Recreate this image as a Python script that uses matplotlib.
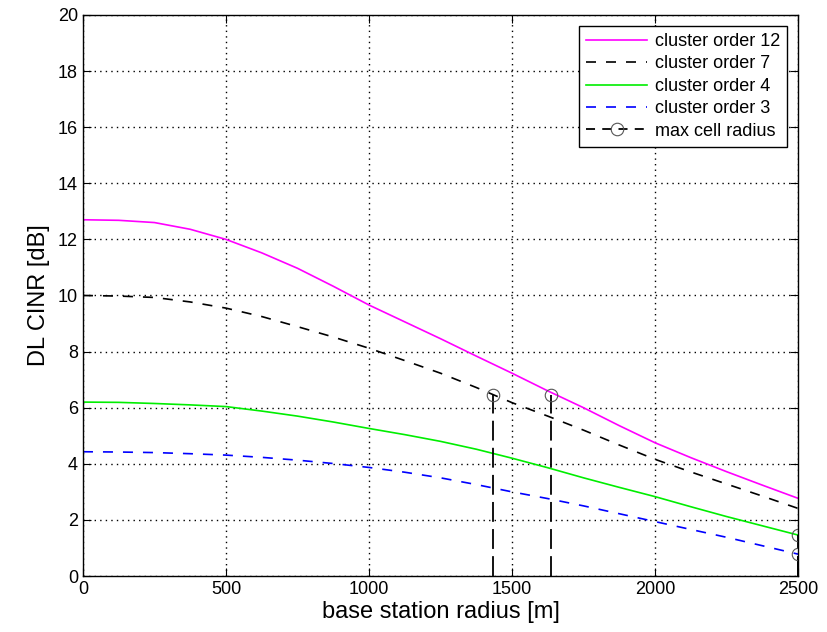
import matplotlib.pyplot as plt
import numpy as np

plt.rcParams['font.family'] = ['Liberation Sans', 'DejaVu Sans']

# base station radius [m]
radius = [0, 125, 250, 375, 500, 625, 750, 875, 1000, 1125, 1250,
          1375, 1500, 1625, 1750, 1875, 2000, 2125, 2250, 2375, 2500]

# DL CINR [dB] per cluster order
cinr_12 = [12.7, 12.68, 12.6, 12.36, 12.0, 11.52, 10.97, 10.33, 9.66, 9.06, 8.46,
           7.84, 7.23, 6.6, 6.0, 5.36, 4.75, 4.22, 3.72, 3.24, 2.77]
cinr_7 = [10.0, 9.98, 9.93, 9.77, 9.55, 9.25, 8.89, 8.52, 8.12, 7.68, 7.23,
          6.72, 6.18, 5.7, 5.2, 4.67, 4.16, 3.71, 3.28, 2.85, 2.41]
cinr_4 = [6.2, 6.19, 6.15, 6.1, 6.04, 5.88, 5.7, 5.49, 5.26, 5.04, 4.8,
          4.52, 4.2, 3.86, 3.5, 3.16, 2.83, 2.47, 2.12, 1.79, 1.46]
cinr_3 = [4.43, 4.42, 4.4, 4.36, 4.31, 4.23, 4.13, 4.01, 3.87, 3.7, 3.5,
          3.26, 3.0, 2.76, 2.5, 2.22, 1.94, 1.66, 1.38, 1.08, 0.78]

# max cell radius points
max_r = [1435, 1635, 2500, 2500]
max_cinr = [6.45, 6.45, 1.46, 0.78]

fig = plt.figure(figsize=(8.28, 6.32), dpi=100)
ax = fig.add_axes([0.1002, 0.0886, 0.8636, 0.8877])

ax.plot(radius, cinr_12, color='#ff00ff', lw=1.2, label='cluster order 12')
ax.plot(radius, cinr_7, color='black', lw=1.2, ls=(0, (6, 6)), label='cluster order 7')
ax.plot(radius, cinr_4, color='#00ee00', lw=1.2, label='cluster order 4')
ax.plot(radius, cinr_3, color='blue', lw=1.2, ls=(0, (6, 6)), label='cluster order 3')

for i in range(len(max_r)):
    lbl = 'max cell radius' if i == 0 else None
    ax.plot([max_r[i], max_r[i]], [0, max_cinr[i]], color='black', lw=1.3,
            ls=(0, (11, 4)), marker='o', markevery=[1], ms=9, mfc='none',
            mec='#555555', mew=0.8, label=lbl)

ax.set_xlim(0, 2500)
ax.set_ylim(0, 20)
ax.set_xticks(np.arange(0, 2501, 500))
ax.set_yticks(np.arange(0, 21, 2))
ax.grid(True, color='black', ls=(0, (1, 3)), lw=1.0)
ax.tick_params(direction='in', top=True, right=True, length=6, labelsize=13)
for s in ax.spines.values():
    s.set_linewidth(1.0)

ax.set_xlabel('base station radius [m]', fontsize=17, labelpad=2)
ax.set_ylabel('DL CINR [dB]', fontsize=17, labelpad=6)

leg = ax.legend(loc='upper right', fontsize=13, fancybox=False, framealpha=1,
                edgecolor='black', borderaxespad=0.6, handlelength=3.4,
                labelspacing=0.3, handletextpad=0.4, borderpad=0.4)
leg.get_frame().set_linewidth(1.0)
# the marker entry uses a shorter dash than the plotted lines
leg.get_lines()[4].set_linestyle((0, (5, 4)))

fig.savefig('out.png', dpi=100)
